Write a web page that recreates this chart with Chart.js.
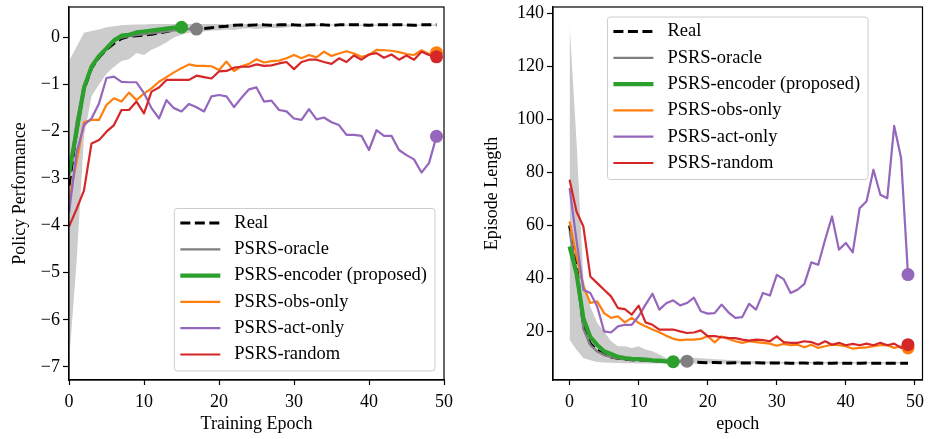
<!DOCTYPE html>
<html>
<head>
<meta charset="utf-8">
<title>PSRS training curves</title>
<script src="https://cdn.jsdelivr.net/npm/chart.js@4.4.1/dist/chart.umd.min.js"></script>
<style>
  html, body { margin:0; padding:0; background:#fff; }
  #wrap { position:relative; width:929px; height:439px; overflow:hidden; }
  canvas { position:absolute; top:0; }
  #perf-chart { left:0; }
  #len-chart { left:465px; }
</style>
</head>
<body>
<div id="wrap">
  <canvas id="perf-chart" width="465" height="439"></canvas>
  <canvas id="len-chart" width="464" height="439"></canvas>
</div>
<script>
//----------------------------------DATA-----------------------------------------------------------

const epochs = [0,1,2,3,4,5,6,7,8,9,10,11,12,13,14,15,16,17,18,19,20,21,22,23,24,
                25,26,27,28,29,30,31,32,33,34,35,36,37,38,39,40,41,42,43,44,45,46,47,48,49]
const epochTicks = [0,10,20,30,40,50]
const perfTicks = [0,-1,-2,-3,-4,-5,-6,-7]
const lenTicks = [20,40,60,80,100,120,140]

const seriesNames = ['Real','PSRS-oracle','PSRS-encoder (proposed)','PSRS-obs-only','PSRS-act-only','PSRS-random']
const seriesColors = ['#000000','#7f7f7f','#2ca02c','#ff7f0e','#9467bd','#d62728']

// policy performance (left)
const realPerf = [-3.15,-2.0,-1.1,-0.65,-0.42,-0.25,-0.12,-0.02,0.03,0.04,
                  0.05,0.07,0.1,0.13,0.16,0.19,0.2,0.18,0.19,0.21,
                  0.23,0.24,0.26,0.27,0.26,0.27,0.27,0.26,0.27,0.27,
                  0.27,0.26,0.27,0.27,0.27,0.26,0.27,0.27,0.27,0.27,
                  0.26,0.27,0.27,0.27,0.27,0.27,0.26,0.27,0.27,0.27]
const oraclePerf = [-3.0,-1.8,-1.0,-0.62,-0.4,-0.22,-0.08,0.0,0.03,0.05,0.07,0.09,0.11,0.13,0.15,0.17,0.18,0.18]
const encoderPerf = [-2.88,-2.0,-1.07,-0.62,-0.39,-0.23,-0.06,0.04,0.06,0.11,0.13,0.15,0.17,0.19,0.21,0.22]
const obsPerf = [-3.45,-2.65,-1.8,-1.75,-1.75,-1.43,-1.29,-1.36,-1.17,-1.33,
                 -1.19,-1.08,-0.94,-0.84,-0.74,-0.65,-0.57,-0.6,-0.6,-0.61,
                 -0.69,-0.51,-0.71,-0.61,-0.56,-0.46,-0.53,-0.5,-0.49,-0.44,
                 -0.37,-0.44,-0.37,-0.42,-0.3,-0.39,-0.34,-0.29,-0.34,-0.41,
                 -0.37,-0.26,-0.27,-0.28,-0.31,-0.35,-0.37,-0.27,-0.35,-0.32]
const actPerf = [-3.73,-2.45,-1.86,-1.72,-1.4,-0.86,-0.83,-0.94,-0.95,-0.95,
                 -1.18,-1.5,-1.72,-1.33,-1.5,-1.57,-1.41,-1.48,-1.57,-1.25,
                 -1.22,-1.25,-1.48,-1.28,-1.1,-1.06,-1.36,-1.34,-1.54,-1.57,
                 -1.72,-1.75,-1.52,-1.74,-1.7,-1.8,-1.86,-2.07,-2.07,-2.09,
                 -2.39,-1.97,-2.09,-2.09,-2.39,-2.5,-2.59,-2.87,-2.67,-2.1]
const randomPerf = [-4.02,-3.65,-3.25,-2.25,-2.18,-2.0,-1.86,-1.54,-1.54,-1.36,
                    -1.61,-1.15,-1.06,-0.9,-0.9,-0.9,-0.9,-0.81,-0.84,-0.87,
                    -0.72,-0.71,-0.64,-0.62,-0.62,-0.57,-0.6,-0.59,-0.55,-0.52,
                    -0.67,-0.52,-0.47,-0.47,-0.52,-0.56,-0.44,-0.52,-0.38,-0.47,
                    -0.36,-0.33,-0.43,-0.36,-0.47,-0.38,-0.47,-0.3,-0.37,-0.41]
// min/max band of the real runs
const lowerPerf = [-6.9,-4.8,-2.1,-1.25,-1.0,-0.77,-0.62,-0.5,-0.46,-0.33,
                   -0.37,-0.26,-0.19,-0.1,0.0,0.06,0.1,0.1,0.13,0.15,
                   0.15,0.17,0.16,0.19,0.2,0.18,0.2,0.21,0.2,0.22,
                   0.23,0.22,0.23,0.24,0.24,0.25,0.25,0.25,0.25,0.25,
                   0.25,0.25,0.25,0.25,0.25,0.25,0.25,0.25,0.25,0.25]
const upperPerf = [-0.5,-0.2,0.1,0.14,0.17,0.22,0.24,0.26,0.27,0.28,
                   0.28,0.29,0.29,0.29,0.29,0.29,0.29,0.29,0.29,0.29,
                   0.29,0.29,0.29,0.29,0.29,0.29,0.29,0.29,0.29,0.29,
                   0.28,0.28,0.28,0.28,0.28,0.28,0.28,0.28,0.28,0.28,
                   0.28,0.28,0.28,0.28,0.28,0.28,0.28,0.28,0.28,0.28]

// episode length (right)
const realLen = [60,45,22,15.5,13,11.5,10.5,10,9.6,9.4,
                 9.3,9.2,9.1,9.0,8.9,8.8,8.7,8.7,8.5,8.4,
                 8.3,8.4,8.3,8.2,8.3,8.2,8.2,8.3,8.2,8.2,
                 8.2,8.2,8.1,8.2,8.2,8.1,8.2,8.1,8.1,8.2,
                 8.1,8.1,8.1,8.2,8.1,8.1,8.1,8.1,8.1,8.1]
const oracleLen = [58,42,21,15,12.5,11.2,10.4,9.9,9.6,9.4,9.3,9.2,9.1,9.0,8.9,8.8,8.8,8.9]
const encoderLen = [52.1,42,25,18,15,12.6,11.6,10.5,10.1,9.8,9.7,9.5,9.2,9.1,8.8,8.7]
const obsLen = [61.5,48.3,37.1,30.8,31.4,27.0,25.2,25.8,23.5,25.2,
                23.3,22.0,20.8,19.8,18.5,17.3,16.8,17.0,17.0,17.3,
                18.3,16.0,18.2,17.3,16.4,15.8,16.4,16.1,15.8,15.5,
                14.7,15.4,14.9,15.1,14.1,15.1,13.9,14.5,15.1,14.9,
                14.5,13.6,13.9,14.1,14.5,14.9,14.9,13.9,14.5,13.9]
const actLen = [74.1,54.6,35.8,34.6,29.5,20.1,19.7,22.0,22.6,22.6,
                25.8,30.2,34.3,28.3,30.7,31.8,29.9,30.8,32.8,27.7,
                26.8,27.0,30.2,27.3,25.2,25.5,30.5,28.3,34.6,33.6,
                41.4,39.8,34.6,35.8,38.0,46.1,45.2,54.6,63.4,50.9,
                53.4,49.9,66.5,69.1,81.0,71.6,70.3,97.5,85.4,41.5]
const randomLen = [77.2,65.3,59.6,40.8,38.3,35.8,33.3,28.9,28.5,26.4,
                   29.8,23.5,22.6,20.8,20.8,20.8,20.1,19.5,19.7,20.5,
                   18.3,18.3,17.9,17.7,17.6,17.0,16.6,17.0,16.8,16.4,
                   18.2,16.1,15.8,15.8,16.4,16.1,15.1,16.4,15.1,15.8,
                   14.9,15.4,14.9,15.5,14.9,15.8,14.9,15.5,13.9,15.1]
const lowerLen = [17.0,13.2,10.1,9.2,8.6,8.4,8.3,8.2,8.1,8.1,
                  8.0,8.0,8.0,8.0,8.0,8.0,8.0,8.0,8.0,8.0,
                  8.0,8.0,8.0,8.0,8.0,8.0,8.0,8.0,8.0,8.0,
                  8.0,8.0,8.0,8.0,8.0,8.0,8.0,8.0,8.0,8.0,
                  8.0,8.0,8.0,8.0,8.0,8.0,8.0,8.0,8.0,8.0]
const upperLen = [135.5,92,40,29.5,23.3,20.1,16.4,14.5,14.5,13.9,
                  14.5,13.3,12.6,11.4,10.1,9.7,9.6,9.8,10.2,10.0,
                  9.8,9.6,9.5,9.3,9.2,9.0,8.9,8.9,8.8,8.8,
                  8.7,8.6,8.6,8.6,8.6,8.6,8.6,8.6,8.6,8.6,
                  8.6,8.6,8.6,8.6,8.6,8.6,8.6,8.6,8.6,8.6]

//----------------------------------STYLE-----------------------------------------------------------

const FAMILY = "'Liberation Serif', 'Times New Roman', serif"
Chart.defaults.font.family = FAMILY
Chart.defaults.font.size = 18
Chart.defaults.color = '#000'
const LEGEND_FONT = '18.5px ' + FAMILY
const BAND = '#cccccc'
const lineWidths = [3, 2.2, 4.2, 2.2, 2.2, 2.2]
const lineDashes = [[10, 4.5], [], [], [], [], []]

//----------------------------------HELPERS-----------------------------------------------------------

const pts = vals => vals.map((v, i) => ({x: epochs[i], y: v}))
const fmt = v => String(v).replace('-', '\u2212')

function make_datasets(band_lo, band_hi, series){
    let sets = [
        {data: pts(band_lo), borderColor: 'rgba(0,0,0,0)', borderWidth: 0, backgroundColor: BAND,
         pointRadius: 0, fill: false, order: 20},
        {data: pts(band_hi), borderColor: 'rgba(0,0,0,0)', borderWidth: 0, backgroundColor: BAND,
         pointRadius: 0, fill: '-1', order: 20},
    ]
    series.forEach((vals, i) => {
        sets.push({
            label: seriesNames[i],
            data: pts(vals),
            borderColor: seriesColors[i],
            backgroundColor: seriesColors[i],
            borderWidth: lineWidths[i],
            borderDash: lineDashes[i],
            borderJoinStyle: 'round',
            fill: false,
            tension: 0,
            // only the last point of each run gets a dot (not the dashed one)
            pointRadius: ctx => (i > 0 && ctx.dataIndex === vals.length - 1) ? 6.5 : 0,
            pointHoverRadius: 0,
            pointBorderWidth: 0,
            pointBackgroundColor: seriesColors[i],
            order: 10 - i
        })
    })
    return sets
}

function make_scales(xr, yr, yTicks, xTitle, yTitle, yWidth, yTitlePad){
    return {
        x: {
            type: 'linear', min: xr[0], max: xr[1],
            afterBuildTicks: s => { s.ticks = epochTicks.map(v => ({value: v})) },
            afterFit: s => { s.height = 59; s.paddingLeft = 0; s.paddingRight = 0 },
            ticks: {color: '#000', padding: 6, maxRotation: 0, autoSkip: false, callback: v => fmt(v)},
            grid: {drawOnChartArea: false, drawTicks: true, tickLength: 5, tickWidth: 1.2, color: '#000', tickColor: '#000'},
            border: {display: true, color: '#000', width: 1.2},
            title: {display: true, text: xTitle, color: '#000', padding: {top: 0, bottom: 4}}
        },
        y: {
            type: 'linear', min: yr[0], max: yr[1],
            afterBuildTicks: s => { s.ticks = yTicks.map(v => ({value: v})) },
            afterFit: s => { s.width = yWidth; s.paddingTop = 0; s.paddingBottom = 0 },
            ticks: {color: '#000', padding: 3, callback: v => fmt(v)},
            grid: {drawOnChartArea: false, drawTicks: true, tickLength: 6, tickWidth: 1.2, color: '#000', tickColor: '#000'},
            border: {display: true, color: '#000', width: 1.2},
            title: {display: true, text: yTitle, color: '#000', padding: {top: yTitlePad, bottom: 0}}
        }
    }
}

// black box round the plot area
const frame = {
    id: 'frame',
    afterDraw(chart){
        const {ctx, chartArea: a} = chart
        ctx.save()
        ctx.strokeStyle = '#000'
        ctx.lineWidth = 1.2
        ctx.strokeRect(a.left, a.top, a.right - a.left, a.bottom - a.top)
        ctx.restore()
    }
}

// framed legend drawn inside the plot area
const boxLegend = {
    id: 'boxLegend',
    afterDraw(chart, args, opts){
        const ctx = chart.ctx
        const area = chart.chartArea
        const items = chart.data.datasets.filter(d => d.label)
        ctx.save()
        ctx.font = LEGEND_FONT
        let textW = Math.max(...items.map(d => ctx.measureText(d.label).width))
        let w = 6 + 40 + 14 + textW + 8
        let h = 14.5 + (items.length - 1) * 26.3 + 16.5
        let left, top
        if(opts.anchor == 'lower right'){
            left = area.right - 9 - w
            top = area.bottom - 9 - h
        }else{
            left = (area.left + area.right) / 2 - w / 2
            top = area.top + 10
        }
        ctx.beginPath()
        ctx.roundRect(left, top, w, h, 3)
        ctx.fillStyle = 'rgba(255,255,255,0.8)'
        ctx.fill()
        ctx.strokeStyle = '#cccccc'
        ctx.lineWidth = 1
        ctx.stroke()
        items.forEach((d, i) => {
            let y = top + 14.5 + i * 26.3
            ctx.beginPath()
            ctx.setLineDash(d.borderDash || [])
            ctx.strokeStyle = d.borderColor
            ctx.lineWidth = d.borderWidth
            ctx.moveTo(left + 6, y)
            ctx.lineTo(left + 46, y)
            ctx.stroke()
            ctx.setLineDash([])
            ctx.fillStyle = '#000'
            ctx.textBaseline = 'middle'
            ctx.fillText(d.label, left + 60, y)
        })
        ctx.restore()
    }
}

function draw_chart(canvas, datasets, scales, padding, anchor){
    return new Chart(canvas, {
        type: 'line',
        data: {datasets: datasets},
        options: {
            responsive: false,
            animation: false,
            layout: {padding: padding},
            plugins: {legend: {display: false}, tooltip: {enabled: false}, boxLegend: {anchor: anchor}},
            scales: scales
        },
        plugins: [frame, boxLegend]
    })
}

//----------------------------------MAIN-----------------------------------------------------------

draw_chart(
    document.getElementById('perf-chart'),
    make_datasets(lowerPerf, upperPerf, [realPerf, oraclePerf, encoderPerf, obsPerf, actPerf, randomPerf]),
    make_scales([0, 50], [-7.28, 0.65], perfTicks, 'Training Epoch', 'Policy Performance', 69, 9),
    {top: 7, right: 21, bottom: 0, left: 0},
    'lower right'
)

draw_chart(
    document.getElementById('len-chart'),
    make_datasets(lowerLen, upperLen, [realLen, oracleLen, encoderLen, obsLen, actLen, randomLen]),
    make_scales([-2.4, 51.1], [1.8, 142.3], lenTicks, 'epoch', 'Episode Length', 88, 16),
    {top: 7, right: 4, bottom: 0, left: 0},
    'upper center'
)
</script>
</body>
</html>
